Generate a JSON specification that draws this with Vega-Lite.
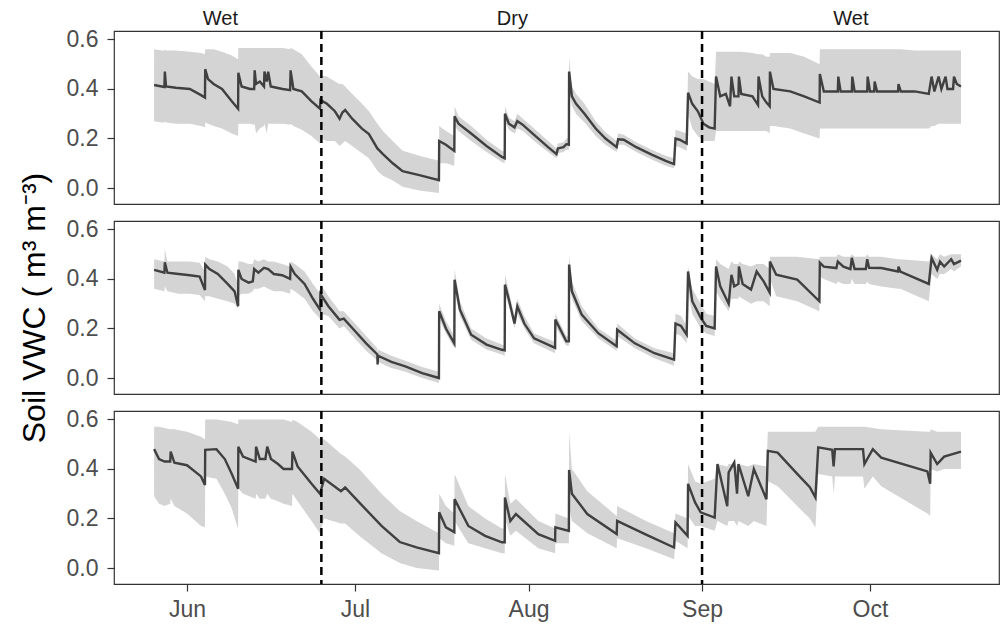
{
"$schema": "https://vega.github.io/schema/vega-lite/v6.json",
"background": "white",
"padding": {"left": 17, "top": 8, "right": 2, "bottom": 5},
"bounds": "flush",
"spacing": 17,
"config": {
 "view": {"stroke": "#333333", "strokeWidth": 1.2},
 "axis": {"grid": false, "domain": false, "labelFont": "Liberation Sans", "labelFontSize": 23, "labelColor": "#4d4d4d", "tickColor": "#333333", "tickSize": 7, "tickWidth": 1.2, "titleFont": "Liberation Sans", "titleFontSize": 32, "titleFontWeight": "normal", "titleColor": "#000000"},
 "text": {"font": "Liberation Sans"}
},
"datasets": {
 "breaks": [{"t": "2019-06-25T00:00"}, {"t": "2019-09-01T00:00"}],
 "phases": [{"phase": "Wet", "t": "2019-06-06T23:00"}, {"phase": "Dry", "t": "2019-07-29T03:00"}, {"phase": "Wet", "t": "2019-09-27T14:00"}],
 "panels": [{"p": "a", "lab": "(a)"}, {"p": "b", "lab": "(b)"}, {"p": "c", "lab": "(c)"}],
 "vwc": [
{"p":"a","t":"2019-05-26T03:00","v":0.416,"lo":0.27,"hi":0.56},
{"p":"a","t":"2019-05-27T12:00","v":0.410,"lo":0.265,"hi":0.555},
{"p":"a","t":"2019-05-27T23:00","v":0.408,"lo":0.265,"hi":0.555},
{"p":"a","t":"2019-05-28T01:00","v":0.470,"lo":0.27,"hi":0.56},
{"p":"a","t":"2019-05-28T06:00","v":0.410,"lo":0.265,"hi":0.555},
{"p":"a","t":"2019-05-30T00:00","v":0.405,"lo":0.26,"hi":0.555},
{"p":"a","t":"2019-06-01T12:00","v":0.400,"lo":0.26,"hi":0.55},
{"p":"a","t":"2019-06-03T12:00","v":0.375,"lo":0.25,"hi":0.545},
{"p":"a","t":"2019-06-04T05:00","v":0.365,"lo":0.245,"hi":0.54},
{"p":"a","t":"2019-06-04T06:00","v":0.480,"lo":0.265,"hi":0.56},
{"p":"a","t":"2019-06-04T18:00","v":0.440,"lo":0.26,"hi":0.56},
{"p":"a","t":"2019-06-05T18:00","v":0.420,"lo":0.25,"hi":0.56},
{"p":"a","t":"2019-06-07T06:00","v":0.400,"lo":0.24,"hi":0.55},
{"p":"a","t":"2019-06-09T00:00","v":0.350,"lo":0.22,"hi":0.535},
{"p":"a","t":"2019-06-10T03:00","v":0.320,"lo":0.21,"hi":0.52},
{"p":"a","t":"2019-06-10T04:00","v":0.465,"lo":0.26,"hi":0.565},
{"p":"a","t":"2019-06-10T18:00","v":0.410,"lo":0.26,"hi":0.565},
{"p":"a","t":"2019-06-12T06:00","v":0.400,"lo":0.26,"hi":0.565},
{"p":"a","t":"2019-06-13T00:00","v":0.400,"lo":0.255,"hi":0.565},
{"p":"a","t":"2019-06-13T02:00","v":0.475,"lo":0.26,"hi":0.565},
{"p":"a","t":"2019-06-13T08:00","v":0.420,"lo":0.22,"hi":0.565},
{"p":"a","t":"2019-06-14T00:00","v":0.430,"lo":0.24,"hi":0.565},
{"p":"a","t":"2019-06-14T18:00","v":0.410,"lo":0.25,"hi":0.565},
{"p":"a","t":"2019-06-14T20:00","v":0.470,"lo":0.26,"hi":0.565},
{"p":"a","t":"2019-06-15T06:00","v":0.430,"lo":0.22,"hi":0.565},
{"p":"a","t":"2019-06-15T12:00","v":0.470,"lo":0.26,"hi":0.565},
{"p":"a","t":"2019-06-15T23:00","v":0.410,"lo":0.26,"hi":0.565},
{"p":"a","t":"2019-06-17T00:00","v":0.405,"lo":0.26,"hi":0.565},
{"p":"a","t":"2019-06-18T02:00","v":0.400,"lo":0.26,"hi":0.565},
{"p":"a","t":"2019-06-19T10:00","v":0.395,"lo":0.255,"hi":0.56},
{"p":"a","t":"2019-06-19T12:00","v":0.475,"lo":0.26,"hi":0.565},
{"p":"a","t":"2019-06-20T00:00","v":0.400,"lo":0.25,"hi":0.56},
{"p":"a","t":"2019-06-21T12:00","v":0.390,"lo":0.235,"hi":0.54},
{"p":"a","t":"2019-06-23T06:00","v":0.350,"lo":0.21,"hi":0.49},
{"p":"a","t":"2019-06-24T18:00","v":0.320,"lo":0.18,"hi":0.45},
{"p":"a","t":"2019-06-24T20:00","v":0.355,"lo":0.20,"hi":0.455},
{"p":"a","t":"2019-06-26T00:00","v":0.340,"lo":0.19,"hi":0.45},
{"p":"a","t":"2019-06-27T10:00","v":0.310,"lo":0.19,"hi":0.43},
{"p":"a","t":"2019-06-28T06:00","v":0.280,"lo":0.17,"hi":0.42},
{"p":"a","t":"2019-06-28T18:00","v":0.305,"lo":0.18,"hi":0.42},
{"p":"a","t":"2019-06-29T06:00","v":0.315,"lo":0.19,"hi":0.41},
{"p":"a","t":"2019-06-30T12:00","v":0.280,"lo":0.17,"hi":0.38},
{"p":"a","t":"2019-07-02T06:00","v":0.240,"lo":0.14,"hi":0.34},
{"p":"a","t":"2019-07-03T12:00","v":0.218,"lo":0.12,"hi":0.31},
{"p":"a","t":"2019-07-05T00:00","v":0.160,"lo":0.07,"hi":0.26},
{"p":"a","t":"2019-07-06T00:00","v":0.137,"lo":0.05,"hi":0.23},
{"p":"a","t":"2019-07-07T18:00","v":0.100,"lo":0.03,"hi":0.19},
{"p":"a","t":"2019-07-09T12:00","v":0.068,"lo":0.005,"hi":0.15},
{"p":"a","t":"2019-07-12T12:00","v":0.052,"lo":-0.01,"hi":0.13},
{"p":"a","t":"2019-07-16T00:00","v":0.032,"lo":-0.02,"hi":0.11},
{"p":"a","t":"2019-07-16T01:00","v":0.190,"lo":0.10,"hi":0.25},
{"p":"a","t":"2019-07-17T06:00","v":0.175,"lo":0.10,"hi":0.23},
{"p":"a","t":"2019-07-18T18:00","v":0.150,"lo":0.09,"hi":0.21},
{"p":"a","t":"2019-07-18T19:00","v":0.290,"lo":0.25,"hi":0.33},
{"p":"a","t":"2019-07-19T12:00","v":0.260,"lo":0.23,"hi":0.29},
{"p":"a","t":"2019-07-21T18:00","v":0.220,"lo":0.19,"hi":0.25},
{"p":"a","t":"2019-07-24T12:00","v":0.170,"lo":0.145,"hi":0.195},
{"p":"a","t":"2019-07-27T06:00","v":0.125,"lo":0.105,"hi":0.15},
{"p":"a","t":"2019-07-27T18:00","v":0.120,"lo":0.10,"hi":0.145},
{"p":"a","t":"2019-07-27T19:00","v":0.300,"lo":0.27,"hi":0.33},
{"p":"a","t":"2019-07-28T12:00","v":0.260,"lo":0.235,"hi":0.285},
{"p":"a","t":"2019-07-29T12:00","v":0.245,"lo":0.22,"hi":0.27},
{"p":"a","t":"2019-07-30T00:00","v":0.270,"lo":0.24,"hi":0.30},
{"p":"a","t":"2019-07-31T00:00","v":0.255,"lo":0.23,"hi":0.28},
{"p":"a","t":"2019-08-02T00:00","v":0.215,"lo":0.19,"hi":0.24},
{"p":"a","t":"2019-08-04T12:00","v":0.165,"lo":0.145,"hi":0.19},
{"p":"a","t":"2019-08-06T00:00","v":0.137,"lo":0.12,"hi":0.16},
{"p":"a","t":"2019-08-06T06:00","v":0.160,"lo":0.14,"hi":0.18},
{"p":"a","t":"2019-08-07T06:00","v":0.165,"lo":0.145,"hi":0.185},
{"p":"a","t":"2019-08-07T18:00","v":0.177,"lo":0.155,"hi":0.20},
{"p":"a","t":"2019-08-08T05:00","v":0.175,"lo":0.155,"hi":0.20},
{"p":"a","t":"2019-08-08T06:00","v":0.470,"lo":0.40,"hi":0.53},
{"p":"a","t":"2019-08-08T18:00","v":0.370,"lo":0.33,"hi":0.41},
{"p":"a","t":"2019-08-09T12:00","v":0.340,"lo":0.30,"hi":0.38},
{"p":"a","t":"2019-08-11T00:00","v":0.300,"lo":0.265,"hi":0.34},
{"p":"a","t":"2019-08-13T00:00","v":0.240,"lo":0.21,"hi":0.27},
{"p":"a","t":"2019-08-14T18:00","v":0.200,"lo":0.175,"hi":0.225},
{"p":"a","t":"2019-08-16T18:00","v":0.165,"lo":0.145,"hi":0.19},
{"p":"a","t":"2019-08-17T00:00","v":0.197,"lo":0.175,"hi":0.22},
{"p":"a","t":"2019-08-18T00:00","v":0.195,"lo":0.175,"hi":0.215},
{"p":"a","t":"2019-08-20T06:00","v":0.165,"lo":0.145,"hi":0.185},
{"p":"a","t":"2019-08-23T00:00","v":0.135,"lo":0.115,"hi":0.155},
{"p":"a","t":"2019-08-25T12:00","v":0.110,"lo":0.09,"hi":0.13},
{"p":"a","t":"2019-08-27T00:00","v":0.097,"lo":0.08,"hi":0.12},
{"p":"a","t":"2019-08-27T06:00","v":0.200,"lo":0.17,"hi":0.235},
{"p":"a","t":"2019-08-28T00:00","v":0.195,"lo":0.165,"hi":0.23},
{"p":"a","t":"2019-08-29T06:00","v":0.180,"lo":0.15,"hi":0.22},
{"p":"a","t":"2019-08-29T12:00","v":0.385,"lo":0.30,"hi":0.47},
{"p":"a","t":"2019-08-30T06:00","v":0.340,"lo":0.24,"hi":0.45},
{"p":"a","t":"2019-08-31T06:00","v":0.310,"lo":0.21,"hi":0.44},
{"p":"a","t":"2019-09-01T06:00","v":0.260,"lo":0.19,"hi":0.44},
{"p":"a","t":"2019-09-02T06:00","v":0.245,"lo":0.19,"hi":0.43},
{"p":"a","t":"2019-09-03T06:00","v":0.240,"lo":0.19,"hi":0.42},
{"p":"a","t":"2019-09-03T12:00","v":0.450,"lo":0.23,"hi":0.55},
{"p":"a","t":"2019-09-04T06:00","v":0.370,"lo":0.23,"hi":0.55},
{"p":"a","t":"2019-09-05T06:00","v":0.380,"lo":0.23,"hi":0.55},
{"p":"a","t":"2019-09-06T00:00","v":0.330,"lo":0.23,"hi":0.55},
{"p":"a","t":"2019-09-06T06:00","v":0.450,"lo":0.23,"hi":0.55},
{"p":"a","t":"2019-09-06T18:00","v":0.370,"lo":0.23,"hi":0.55},
{"p":"a","t":"2019-09-07T12:00","v":0.370,"lo":0.23,"hi":0.55},
{"p":"a","t":"2019-09-07T14:00","v":0.450,"lo":0.23,"hi":0.55},
{"p":"a","t":"2019-09-08T00:00","v":0.380,"lo":0.23,"hi":0.55},
{"p":"a","t":"2019-09-10T00:00","v":0.370,"lo":0.23,"hi":0.545},
{"p":"a","t":"2019-09-11T00:00","v":0.335,"lo":0.23,"hi":0.54},
{"p":"a","t":"2019-09-11T02:00","v":0.450,"lo":0.23,"hi":0.54},
{"p":"a","t":"2019-09-11T18:00","v":0.370,"lo":0.23,"hi":0.54},
{"p":"a","t":"2019-09-12T12:00","v":0.345,"lo":0.23,"hi":0.53},
{"p":"a","t":"2019-09-13T02:00","v":0.330,"lo":0.22,"hi":0.53},
{"p":"a","t":"2019-09-13T03:00","v":0.470,"lo":0.25,"hi":0.545},
{"p":"a","t":"2019-09-13T18:00","v":0.400,"lo":0.25,"hi":0.545},
{"p":"a","t":"2019-09-16T18:00","v":0.390,"lo":0.24,"hi":0.545},
{"p":"a","t":"2019-09-19T06:00","v":0.370,"lo":0.22,"hi":0.53},
{"p":"a","t":"2019-09-22T00:00","v":0.345,"lo":0.20,"hi":0.50},
{"p":"a","t":"2019-09-22T01:00","v":0.460,"lo":0.24,"hi":0.56},
{"p":"a","t":"2019-09-22T18:00","v":0.390,"lo":0.24,"hi":0.56},
{"p":"a","t":"2019-09-25T06:00","v":0.390,"lo":0.24,"hi":0.56},
{"p":"a","t":"2019-09-25T08:00","v":0.450,"lo":0.24,"hi":0.56},
{"p":"a","t":"2019-09-25T18:00","v":0.390,"lo":0.24,"hi":0.56},
{"p":"a","t":"2019-09-27T18:00","v":0.390,"lo":0.24,"hi":0.56},
{"p":"a","t":"2019-09-27T20:00","v":0.450,"lo":0.24,"hi":0.56},
{"p":"a","t":"2019-09-28T06:00","v":0.390,"lo":0.24,"hi":0.56},
{"p":"a","t":"2019-09-30T12:00","v":0.390,"lo":0.24,"hi":0.56},
{"p":"a","t":"2019-09-30T14:00","v":0.450,"lo":0.24,"hi":0.56},
{"p":"a","t":"2019-10-01T00:00","v":0.390,"lo":0.24,"hi":0.56},
{"p":"a","t":"2019-10-01T18:00","v":0.390,"lo":0.24,"hi":0.56},
{"p":"a","t":"2019-10-01T20:00","v":0.430,"lo":0.24,"hi":0.56},
{"p":"a","t":"2019-10-02T06:00","v":0.390,"lo":0.24,"hi":0.56},
{"p":"a","t":"2019-10-06T00:00","v":0.390,"lo":0.24,"hi":0.56},
{"p":"a","t":"2019-10-06T02:00","v":0.420,"lo":0.24,"hi":0.56},
{"p":"a","t":"2019-10-06T12:00","v":0.390,"lo":0.24,"hi":0.56},
{"p":"a","t":"2019-10-09T00:00","v":0.390,"lo":0.24,"hi":0.555},
{"p":"a","t":"2019-10-11T12:00","v":0.380,"lo":0.24,"hi":0.555},
{"p":"a","t":"2019-10-12T00:00","v":0.450,"lo":0.25,"hi":0.555},
{"p":"a","t":"2019-10-12T12:00","v":0.390,"lo":0.25,"hi":0.555},
{"p":"a","t":"2019-10-13T06:00","v":0.450,"lo":0.26,"hi":0.555},
{"p":"a","t":"2019-10-13T18:00","v":0.400,"lo":0.26,"hi":0.555},
{"p":"a","t":"2019-10-14T12:00","v":0.450,"lo":0.26,"hi":0.555},
{"p":"a","t":"2019-10-14T20:00","v":0.400,"lo":0.26,"hi":0.555},
{"p":"a","t":"2019-10-15T20:00","v":0.400,"lo":0.26,"hi":0.555},
{"p":"a","t":"2019-10-16T00:00","v":0.450,"lo":0.26,"hi":0.555},
{"p":"a","t":"2019-10-16T12:00","v":0.420,"lo":0.26,"hi":0.555},
{"p":"a","t":"2019-10-17T06:00","v":0.410,"lo":0.26,"hi":0.555},
{"p":"b","t":"2019-05-26T03:00","v":0.437,"lo":0.36,"hi":0.48},
{"p":"b","t":"2019-05-27T23:00","v":0.425,"lo":0.35,"hi":0.47},
{"p":"b","t":"2019-05-28T01:00","v":0.467,"lo":0.37,"hi":0.52},
{"p":"b","t":"2019-05-28T12:00","v":0.425,"lo":0.35,"hi":0.47},
{"p":"b","t":"2019-05-30T12:00","v":0.420,"lo":0.34,"hi":0.47},
{"p":"b","t":"2019-06-01T12:00","v":0.415,"lo":0.34,"hi":0.47},
{"p":"b","t":"2019-06-03T06:00","v":0.410,"lo":0.335,"hi":0.465},
{"p":"b","t":"2019-06-04T05:00","v":0.355,"lo":0.31,"hi":0.43},
{"p":"b","t":"2019-06-04T06:00","v":0.458,"lo":0.33,"hi":0.49},
{"p":"b","t":"2019-06-05T00:00","v":0.440,"lo":0.33,"hi":0.48},
{"p":"b","t":"2019-06-06T12:00","v":0.420,"lo":0.32,"hi":0.47},
{"p":"b","t":"2019-06-08T06:00","v":0.380,"lo":0.31,"hi":0.45},
{"p":"b","t":"2019-06-09T12:00","v":0.350,"lo":0.30,"hi":0.42},
{"p":"b","t":"2019-06-10T03:00","v":0.290,"lo":0.28,"hi":0.38},
{"p":"b","t":"2019-06-10T04:00","v":0.437,"lo":0.33,"hi":0.47},
{"p":"b","t":"2019-06-10T18:00","v":0.400,"lo":0.34,"hi":0.47},
{"p":"b","t":"2019-06-12T00:00","v":0.385,"lo":0.34,"hi":0.46},
{"p":"b","t":"2019-06-12T18:00","v":0.390,"lo":0.35,"hi":0.46},
{"p":"b","t":"2019-06-13T00:00","v":0.440,"lo":0.36,"hi":0.48},
{"p":"b","t":"2019-06-13T18:00","v":0.425,"lo":0.36,"hi":0.47},
{"p":"b","t":"2019-06-14T18:00","v":0.445,"lo":0.37,"hi":0.48},
{"p":"b","t":"2019-06-15T12:00","v":0.440,"lo":0.36,"hi":0.47},
{"p":"b","t":"2019-06-16T12:00","v":0.420,"lo":0.35,"hi":0.47},
{"p":"b","t":"2019-06-18T00:00","v":0.415,"lo":0.35,"hi":0.46},
{"p":"b","t":"2019-06-19T10:00","v":0.400,"lo":0.34,"hi":0.45},
{"p":"b","t":"2019-06-19T12:00","v":0.450,"lo":0.36,"hi":0.47},
{"p":"b","t":"2019-06-20T06:00","v":0.420,"lo":0.35,"hi":0.46},
{"p":"b","t":"2019-06-22T00:00","v":0.380,"lo":0.32,"hi":0.43},
{"p":"b","t":"2019-06-23T12:00","v":0.320,"lo":0.27,"hi":0.38},
{"p":"b","t":"2019-06-24T18:00","v":0.276,"lo":0.24,"hi":0.34},
{"p":"b","t":"2019-06-24T20:00","v":0.340,"lo":0.26,"hi":0.38},
{"p":"b","t":"2019-06-26T06:00","v":0.290,"lo":0.25,"hi":0.33},
{"p":"b","t":"2019-06-28T06:00","v":0.235,"lo":0.20,"hi":0.27},
{"p":"b","t":"2019-06-29T00:00","v":0.240,"lo":0.21,"hi":0.27},
{"p":"b","t":"2019-07-01T00:00","v":0.190,"lo":0.16,"hi":0.22},
{"p":"b","t":"2019-07-03T00:00","v":0.140,"lo":0.11,"hi":0.17},
{"p":"b","t":"2019-07-05T00:00","v":0.095,"lo":0.07,"hi":0.12},
{"p":"b","t":"2019-07-05T01:00","v":0.055,"lo":0.04,"hi":0.10},
{"p":"b","t":"2019-07-05T03:00","v":0.090,"lo":0.065,"hi":0.115},
{"p":"b","t":"2019-07-07T12:00","v":0.065,"lo":0.04,"hi":0.09},
{"p":"b","t":"2019-07-10T00:00","v":0.047,"lo":0.025,"hi":0.07},
{"p":"b","t":"2019-07-13T00:00","v":0.020,"lo":0.0,"hi":0.045},
{"p":"b","t":"2019-07-16T00:00","v":0.000,"lo":-0.02,"hi":0.025},
{"p":"b","t":"2019-07-16T01:00","v":0.270,"lo":0.24,"hi":0.30},
{"p":"b","t":"2019-07-17T06:00","v":0.200,"lo":0.18,"hi":0.23},
{"p":"b","t":"2019-07-18T18:00","v":0.140,"lo":0.12,"hi":0.17},
{"p":"b","t":"2019-07-18T19:00","v":0.397,"lo":0.35,"hi":0.44},
{"p":"b","t":"2019-07-19T18:00","v":0.276,"lo":0.25,"hi":0.31},
{"p":"b","t":"2019-07-21T18:00","v":0.175,"lo":0.155,"hi":0.20},
{"p":"b","t":"2019-07-24T12:00","v":0.135,"lo":0.115,"hi":0.16},
{"p":"b","t":"2019-07-27T06:00","v":0.114,"lo":0.095,"hi":0.135},
{"p":"b","t":"2019-07-27T18:00","v":0.112,"lo":0.09,"hi":0.13},
{"p":"b","t":"2019-07-27T19:00","v":0.377,"lo":0.34,"hi":0.42},
{"p":"b","t":"2019-07-28T12:00","v":0.316,"lo":0.29,"hi":0.35},
{"p":"b","t":"2019-07-29T12:00","v":0.220,"lo":0.20,"hi":0.25},
{"p":"b","t":"2019-07-30T00:00","v":0.290,"lo":0.26,"hi":0.32},
{"p":"b","t":"2019-07-31T06:00","v":0.220,"lo":0.20,"hi":0.25},
{"p":"b","t":"2019-08-02T00:00","v":0.160,"lo":0.14,"hi":0.18},
{"p":"b","t":"2019-08-05T18:00","v":0.122,"lo":0.10,"hi":0.145},
{"p":"b","t":"2019-08-05T19:00","v":0.236,"lo":0.21,"hi":0.26},
{"p":"b","t":"2019-08-07T18:00","v":0.148,"lo":0.13,"hi":0.17},
{"p":"b","t":"2019-08-08T05:00","v":0.148,"lo":0.13,"hi":0.17},
{"p":"b","t":"2019-08-08T06:00","v":0.458,"lo":0.40,"hi":0.50},
{"p":"b","t":"2019-08-08T18:00","v":0.350,"lo":0.32,"hi":0.39},
{"p":"b","t":"2019-08-10T12:00","v":0.256,"lo":0.23,"hi":0.29},
{"p":"b","t":"2019-08-13T12:00","v":0.180,"lo":0.16,"hi":0.20},
{"p":"b","t":"2019-08-16T18:00","v":0.128,"lo":0.11,"hi":0.15},
{"p":"b","t":"2019-08-16T20:00","v":0.195,"lo":0.17,"hi":0.22},
{"p":"b","t":"2019-08-20T00:00","v":0.140,"lo":0.12,"hi":0.16},
{"p":"b","t":"2019-08-23T12:00","v":0.100,"lo":0.08,"hi":0.12},
{"p":"b","t":"2019-08-27T00:00","v":0.074,"lo":0.05,"hi":0.10},
{"p":"b","t":"2019-08-27T06:00","v":0.220,"lo":0.18,"hi":0.26},
{"p":"b","t":"2019-08-28T06:00","v":0.210,"lo":0.17,"hi":0.25},
{"p":"b","t":"2019-08-29T06:00","v":0.175,"lo":0.14,"hi":0.21},
{"p":"b","t":"2019-08-29T12:00","v":0.430,"lo":0.35,"hi":0.45},
{"p":"b","t":"2019-08-30T06:00","v":0.310,"lo":0.26,"hi":0.36},
{"p":"b","t":"2019-08-31T18:00","v":0.244,"lo":0.20,"hi":0.30},
{"p":"b","t":"2019-09-01T18:00","v":0.210,"lo":0.18,"hi":0.26},
{"p":"b","t":"2019-09-03T06:00","v":0.200,"lo":0.17,"hi":0.25},
{"p":"b","t":"2019-09-03T12:00","v":0.450,"lo":0.35,"hi":0.48},
{"p":"b","t":"2019-09-04T06:00","v":0.370,"lo":0.32,"hi":0.46},
{"p":"b","t":"2019-09-05T18:00","v":0.300,"lo":0.27,"hi":0.44},
{"p":"b","t":"2019-09-06T06:00","v":0.417,"lo":0.32,"hi":0.47},
{"p":"b","t":"2019-09-06T18:00","v":0.370,"lo":0.32,"hi":0.46},
{"p":"b","t":"2019-09-07T12:00","v":0.380,"lo":0.32,"hi":0.46},
{"p":"b","t":"2019-09-07T14:00","v":0.450,"lo":0.33,"hi":0.47},
{"p":"b","t":"2019-09-08T06:00","v":0.380,"lo":0.32,"hi":0.46},
{"p":"b","t":"2019-09-09T18:00","v":0.357,"lo":0.30,"hi":0.45},
{"p":"b","t":"2019-09-10T18:00","v":0.430,"lo":0.31,"hi":0.46},
{"p":"b","t":"2019-09-12T00:00","v":0.390,"lo":0.31,"hi":0.46},
{"p":"b","t":"2019-09-13T02:00","v":0.345,"lo":0.29,"hi":0.44},
{"p":"b","t":"2019-09-13T03:00","v":0.470,"lo":0.40,"hi":0.49},
{"p":"b","t":"2019-09-14T06:00","v":0.417,"lo":0.33,"hi":0.49},
{"p":"b","t":"2019-09-18T00:00","v":0.397,"lo":0.31,"hi":0.49},
{"p":"b","t":"2019-09-21T23:00","v":0.310,"lo":0.27,"hi":0.48},
{"p":"b","t":"2019-09-22T01:00","v":0.466,"lo":0.41,"hi":0.49},
{"p":"b","t":"2019-09-22T18:00","v":0.450,"lo":0.40,"hi":0.49},
{"p":"b","t":"2019-09-25T00:00","v":0.444,"lo":0.38,"hi":0.49},
{"p":"b","t":"2019-09-25T06:00","v":0.470,"lo":0.39,"hi":0.50},
{"p":"b","t":"2019-09-26T06:00","v":0.450,"lo":0.38,"hi":0.49},
{"p":"b","t":"2019-09-27T12:00","v":0.440,"lo":0.38,"hi":0.49},
{"p":"b","t":"2019-09-27T18:00","v":0.485,"lo":0.40,"hi":0.50},
{"p":"b","t":"2019-09-28T06:00","v":0.440,"lo":0.38,"hi":0.49},
{"p":"b","t":"2019-09-30T06:00","v":0.440,"lo":0.38,"hi":0.49},
{"p":"b","t":"2019-09-30T12:00","v":0.480,"lo":0.39,"hi":0.50},
{"p":"b","t":"2019-09-30T20:00","v":0.445,"lo":0.38,"hi":0.49},
{"p":"b","t":"2019-10-03T00:00","v":0.444,"lo":0.37,"hi":0.49},
{"p":"b","t":"2019-10-06T00:00","v":0.430,"lo":0.36,"hi":0.48},
{"p":"b","t":"2019-10-06T02:00","v":0.450,"lo":0.36,"hi":0.48},
{"p":"b","t":"2019-10-06T10:00","v":0.430,"lo":0.36,"hi":0.48},
{"p":"b","t":"2019-10-11T12:00","v":0.380,"lo":0.31,"hi":0.47},
{"p":"b","t":"2019-10-12T00:00","v":0.485,"lo":0.42,"hi":0.50},
{"p":"b","t":"2019-10-13T00:00","v":0.437,"lo":0.40,"hi":0.48},
{"p":"b","t":"2019-10-13T12:00","v":0.470,"lo":0.42,"hi":0.50},
{"p":"b","t":"2019-10-14T06:00","v":0.450,"lo":0.42,"hi":0.49},
{"p":"b","t":"2019-10-15T12:00","v":0.480,"lo":0.44,"hi":0.50},
{"p":"b","t":"2019-10-16T00:00","v":0.460,"lo":0.43,"hi":0.50},
{"p":"b","t":"2019-10-17T06:00","v":0.474,"lo":0.45,"hi":0.50},
{"p":"c","t":"2019-05-26T03:00","v":0.480,"lo":0.29,"hi":0.57},
{"p":"c","t":"2019-05-27T00:00","v":0.440,"lo":0.26,"hi":0.57},
{"p":"c","t":"2019-05-28T00:00","v":0.430,"lo":0.25,"hi":0.565},
{"p":"c","t":"2019-05-29T00:00","v":0.430,"lo":0.26,"hi":0.56},
{"p":"c","t":"2019-05-29T02:00","v":0.470,"lo":0.28,"hi":0.56},
{"p":"c","t":"2019-05-29T18:00","v":0.425,"lo":0.25,"hi":0.56},
{"p":"c","t":"2019-06-01T00:00","v":0.415,"lo":0.22,"hi":0.55},
{"p":"c","t":"2019-06-03T12:00","v":0.370,"lo":0.17,"hi":0.53},
{"p":"c","t":"2019-06-04T05:00","v":0.335,"lo":0.165,"hi":0.52},
{"p":"c","t":"2019-06-04T06:00","v":0.477,"lo":0.37,"hi":0.60},
{"p":"c","t":"2019-06-06T06:00","v":0.480,"lo":0.36,"hi":0.60},
{"p":"c","t":"2019-06-07T18:00","v":0.440,"lo":0.30,"hi":0.595},
{"p":"c","t":"2019-06-09T00:00","v":0.380,"lo":0.24,"hi":0.59},
{"p":"c","t":"2019-06-10T03:00","v":0.320,"lo":0.157,"hi":0.58},
{"p":"c","t":"2019-06-10T04:00","v":0.490,"lo":0.32,"hi":0.60},
{"p":"c","t":"2019-06-11T00:00","v":0.450,"lo":0.30,"hi":0.60},
{"p":"c","t":"2019-06-13T06:00","v":0.430,"lo":0.28,"hi":0.60},
{"p":"c","t":"2019-06-13T08:00","v":0.490,"lo":0.30,"hi":0.60},
{"p":"c","t":"2019-06-14T00:00","v":0.440,"lo":0.28,"hi":0.60},
{"p":"c","t":"2019-06-15T00:00","v":0.440,"lo":0.28,"hi":0.60},
{"p":"c","t":"2019-06-15T08:00","v":0.490,"lo":0.30,"hi":0.60},
{"p":"c","t":"2019-06-16T00:00","v":0.440,"lo":0.28,"hi":0.60},
{"p":"c","t":"2019-06-17T06:00","v":0.420,"lo":0.27,"hi":0.60},
{"p":"c","t":"2019-06-18T06:00","v":0.400,"lo":0.26,"hi":0.60},
{"p":"c","t":"2019-06-19T18:00","v":0.400,"lo":0.25,"hi":0.59},
{"p":"c","t":"2019-06-19T20:00","v":0.470,"lo":0.30,"hi":0.60},
{"p":"c","t":"2019-06-20T18:00","v":0.410,"lo":0.27,"hi":0.59},
{"p":"c","t":"2019-06-23T06:00","v":0.340,"lo":0.19,"hi":0.55},
{"p":"c","t":"2019-06-24T18:00","v":0.300,"lo":0.14,"hi":0.52},
{"p":"c","t":"2019-06-25T12:00","v":0.360,"lo":0.20,"hi":0.52},
{"p":"c","t":"2019-06-28T12:00","v":0.310,"lo":0.18,"hi":0.46},
{"p":"c","t":"2019-06-29T06:00","v":0.325,"lo":0.18,"hi":0.45},
{"p":"c","t":"2019-07-01T18:00","v":0.265,"lo":0.13,"hi":0.40},
{"p":"c","t":"2019-07-05T18:00","v":0.170,"lo":0.06,"hi":0.30},
{"p":"c","t":"2019-07-09T00:00","v":0.105,"lo":0.02,"hi":0.23},
{"p":"c","t":"2019-07-12T00:00","v":0.083,"lo":0.0,"hi":0.19},
{"p":"c","t":"2019-07-16T00:00","v":0.060,"lo":-0.01,"hi":0.14},
{"p":"c","t":"2019-07-16T01:00","v":0.225,"lo":0.12,"hi":0.30},
{"p":"c","t":"2019-07-17T06:00","v":0.164,"lo":0.10,"hi":0.25},
{"p":"c","t":"2019-07-18T18:00","v":0.145,"lo":0.09,"hi":0.22},
{"p":"c","t":"2019-07-18T19:00","v":0.278,"lo":0.19,"hi":0.38},
{"p":"c","t":"2019-07-21T06:00","v":0.170,"lo":0.10,"hi":0.25},
{"p":"c","t":"2019-07-24T06:00","v":0.130,"lo":0.08,"hi":0.20},
{"p":"c","t":"2019-07-27T06:00","v":0.104,"lo":0.06,"hi":0.16},
{"p":"c","t":"2019-07-27T18:00","v":0.104,"lo":0.06,"hi":0.16},
{"p":"c","t":"2019-07-27T19:00","v":0.285,"lo":0.20,"hi":0.38},
{"p":"c","t":"2019-07-28T18:00","v":0.190,"lo":0.13,"hi":0.26},
{"p":"c","t":"2019-07-29T18:00","v":0.218,"lo":0.15,"hi":0.28},
{"p":"c","t":"2019-08-02T18:00","v":0.137,"lo":0.08,"hi":0.19},
{"p":"c","t":"2019-08-05T18:00","v":0.110,"lo":0.06,"hi":0.16},
{"p":"c","t":"2019-08-05T19:00","v":0.164,"lo":0.10,"hi":0.22},
{"p":"c","t":"2019-08-08T05:00","v":0.150,"lo":0.10,"hi":0.20},
{"p":"c","t":"2019-08-08T06:00","v":0.396,"lo":0.25,"hi":0.55},
{"p":"c","t":"2019-08-08T18:00","v":0.300,"lo":0.19,"hi":0.40},
{"p":"c","t":"2019-08-11T12:00","v":0.218,"lo":0.14,"hi":0.31},
{"p":"c","t":"2019-08-16T18:00","v":0.137,"lo":0.08,"hi":0.21},
{"p":"c","t":"2019-08-16T20:00","v":0.190,"lo":0.12,"hi":0.25},
{"p":"c","t":"2019-08-22T00:00","v":0.135,"lo":0.08,"hi":0.19},
{"p":"c","t":"2019-08-27T00:00","v":0.083,"lo":0.035,"hi":0.14},
{"p":"c","t":"2019-08-27T06:00","v":0.184,"lo":0.11,"hi":0.22},
{"p":"c","t":"2019-08-29T10:00","v":0.130,"lo":0.08,"hi":0.20},
{"p":"c","t":"2019-08-29T12:00","v":0.340,"lo":0.21,"hi":0.42},
{"p":"c","t":"2019-08-30T18:00","v":0.265,"lo":0.17,"hi":0.35},
{"p":"c","t":"2019-08-31T18:00","v":0.225,"lo":0.17,"hi":0.34},
{"p":"c","t":"2019-09-03T06:00","v":0.204,"lo":0.15,"hi":0.36},
{"p":"c","t":"2019-09-03T18:00","v":0.420,"lo":0.19,"hi":0.42},
{"p":"c","t":"2019-09-05T12:00","v":0.250,"lo":0.17,"hi":0.41},
{"p":"c","t":"2019-09-05T18:00","v":0.386,"lo":0.19,"hi":0.42},
{"p":"c","t":"2019-09-06T18:00","v":0.426,"lo":0.19,"hi":0.42},
{"p":"c","t":"2019-09-07T06:00","v":0.300,"lo":0.17,"hi":0.41},
{"p":"c","t":"2019-09-07T12:00","v":0.420,"lo":0.19,"hi":0.42},
{"p":"c","t":"2019-09-09T06:00","v":0.290,"lo":0.17,"hi":0.41},
{"p":"c","t":"2019-09-10T06:00","v":0.400,"lo":0.19,"hi":0.42},
{"p":"c","t":"2019-09-12T12:00","v":0.278,"lo":0.17,"hi":0.41},
{"p":"c","t":"2019-09-12T18:00","v":0.473,"lo":0.35,"hi":0.55},
{"p":"c","t":"2019-09-14T12:00","v":0.466,"lo":0.33,"hi":0.55},
{"p":"c","t":"2019-09-18T00:00","v":0.380,"lo":0.25,"hi":0.55},
{"p":"c","t":"2019-09-20T06:00","v":0.326,"lo":0.20,"hi":0.55},
{"p":"c","t":"2019-09-21T06:00","v":0.285,"lo":0.164,"hi":0.55},
{"p":"c","t":"2019-09-21T18:00","v":0.487,"lo":0.38,"hi":0.57},
{"p":"c","t":"2019-09-24T06:00","v":0.477,"lo":0.37,"hi":0.57},
{"p":"c","t":"2019-09-24T12:00","v":0.410,"lo":0.30,"hi":0.57},
{"p":"c","t":"2019-09-24T18:00","v":0.480,"lo":0.37,"hi":0.57},
{"p":"c","t":"2019-09-29T18:00","v":0.480,"lo":0.37,"hi":0.57},
{"p":"c","t":"2019-09-30T00:00","v":0.420,"lo":0.32,"hi":0.57},
{"p":"c","t":"2019-10-01T12:00","v":0.480,"lo":0.37,"hi":0.565},
{"p":"c","t":"2019-10-03T00:00","v":0.446,"lo":0.33,"hi":0.56},
{"p":"c","t":"2019-10-11T06:00","v":0.390,"lo":0.22,"hi":0.55},
{"p":"c","t":"2019-10-11T18:00","v":0.340,"lo":0.21,"hi":0.55},
{"p":"c","t":"2019-10-11T20:00","v":0.466,"lo":0.40,"hi":0.56},
{"p":"c","t":"2019-10-13T00:00","v":0.420,"lo":0.39,"hi":0.55},
{"p":"c","t":"2019-10-14T06:00","v":0.450,"lo":0.40,"hi":0.55},
{"p":"c","t":"2019-10-17T06:00","v":0.470,"lo":0.40,"hi":0.55}
 ]
},
"vconcat": [
 {
  "width": 885, "height": 173,
  "encoding": {"x": {"field": "t", "type": "temporal", "axis": null, "scale": {"domain": [{"year": 2019, "month": 5, "date": 18, "hours": 23}, {"year": 2019, "month": 10, "date": 24, "hours": 1}], "nice": false}}},
  "layer": [
   {"data": {"name": "vwc"}, "transform": [{"filter": "datum.p === 'a'"}],
    "mark": {"type": "area", "color": "#d4d4d4"},
    "encoding": {"y": {"field": "lo", "type": "quantitative", "scale": {"domain": [-0.0645, 0.634], "nice": false, "zero": false}, "axis": {"values": [0, 0.2, 0.4, 0.6], "format": ".1f", "title": null, "labelPadding": 9}}, "y2": {"field": "hi"}}},
   {"data": {"name": "vwc"}, "transform": [{"filter": "datum.p === 'a'"}],
    "mark": {"type": "line", "color": "#404040", "strokeWidth": 2.4},
    "encoding": {"y": {"field": "v", "type": "quantitative", "title": null}}},
   {"data": {"name": "breaks"}, "mark": {"type": "rule", "color": "#000000", "strokeWidth": 2.5, "strokeDash": [8, 5]}, "encoding": {}},
   {"data": {"name": "panels"}, "transform": [{"filter": "datum.p === 'a'"}],
    "mark": {"type": "text", "align": "left", "baseline": "middle", "fontSize": 19, "color": "#000000"},
    "encoding": {"x": {"datum": {"year": 2019, "month": 5, "date": 20, "hours": 17}, "type": "temporal"}, "y": {"datum": 0.573, "type": "quantitative"}, "text": {"field": "lab"}}},
   {"data": {"name": "phases"},
    "mark": {"type": "text", "align": "center", "baseline": "middle", "fontSize": 20, "color": "#1a1a1a"},
    "encoding": {"y": {"datum": 0.682, "type": "quantitative"}, "text": {"field": "phase"}}}
  ]
 },
 {
  "width": 885, "height": 173,
  "encoding": {"x": {"field": "t", "type": "temporal", "axis": null, "scale": {"domain": [{"year": 2019, "month": 5, "date": 18, "hours": 23}, {"year": 2019, "month": 10, "date": 24, "hours": 1}], "nice": false}}},
  "layer": [
   {"data": {"name": "vwc"}, "transform": [{"filter": "datum.p === 'b'"}],
    "mark": {"type": "area", "color": "#d4d4d4"},
    "encoding": {"y": {"field": "lo", "type": "quantitative", "scale": {"domain": [-0.0645, 0.634], "nice": false, "zero": false}, "axis": {"values": [0, 0.2, 0.4, 0.6], "format": ".1f", "title": "Soil VWC ( m³ m⁻³)", "titlePadding": 15, "labelPadding": 9}}, "y2": {"field": "hi"}}},
   {"data": {"name": "vwc"}, "transform": [{"filter": "datum.p === 'b'"}],
    "mark": {"type": "line", "color": "#404040", "strokeWidth": 2.4},
    "encoding": {"y": {"field": "v", "type": "quantitative", "title": "Soil VWC ( m³ m⁻³)"}}},
   {"data": {"name": "breaks"}, "mark": {"type": "rule", "color": "#000000", "strokeWidth": 2.5, "strokeDash": [8, 5]}, "encoding": {}},
   {"data": {"name": "panels"}, "transform": [{"filter": "datum.p === 'b'"}],
    "mark": {"type": "text", "align": "left", "baseline": "middle", "fontSize": 19, "color": "#000000"},
    "encoding": {"x": {"datum": {"year": 2019, "month": 5, "date": 20, "hours": 17}, "type": "temporal"}, "y": {"datum": 0.573, "type": "quantitative"}, "text": {"field": "lab"}}}
  ]
 },
 {
  "width": 885, "height": 173,
  "encoding": {"x": {"field": "t", "type": "temporal", "scale": {"domain": [{"year": 2019, "month": 5, "date": 18, "hours": 23}, {"year": 2019, "month": 10, "date": 24, "hours": 1}], "nice": false}, "axis": {"values": [{"year": 2019, "month": 6, "date": 1}, {"year": 2019, "month": 7, "date": 1}, {"year": 2019, "month": 8, "date": 1}, {"year": 2019, "month": 9, "date": 1}, {"year": 2019, "month": 10, "date": 1}], "format": "%b", "title": null, "labelPadding": 7, "labelFlush": false, "labelOverlap": false}}},
  "layer": [
   {"data": {"name": "vwc"}, "transform": [{"filter": "datum.p === 'c'"}],
    "mark": {"type": "area", "color": "#d4d4d4"},
    "encoding": {"y": {"field": "lo", "type": "quantitative", "scale": {"domain": [-0.0645, 0.634], "nice": false, "zero": false}, "axis": {"values": [0, 0.2, 0.4, 0.6], "format": ".1f", "title": null, "labelPadding": 9}}, "y2": {"field": "hi"}}},
   {"data": {"name": "vwc"}, "transform": [{"filter": "datum.p === 'c'"}],
    "mark": {"type": "line", "color": "#404040", "strokeWidth": 2.4},
    "encoding": {"y": {"field": "v", "type": "quantitative", "title": null}}},
   {"data": {"name": "breaks"}, "mark": {"type": "rule", "color": "#000000", "strokeWidth": 2.5, "strokeDash": [8, 5]}, "encoding": {}},
   {"data": {"name": "panels"}, "transform": [{"filter": "datum.p === 'c'"}],
    "mark": {"type": "text", "align": "left", "baseline": "middle", "fontSize": 19, "color": "#000000"},
    "encoding": {"x": {"datum": {"year": 2019, "month": 5, "date": 20, "hours": 17}, "type": "temporal"}, "y": {"datum": 0.573, "type": "quantitative"}, "text": {"field": "lab"}}}
  ]
 }
]
}
